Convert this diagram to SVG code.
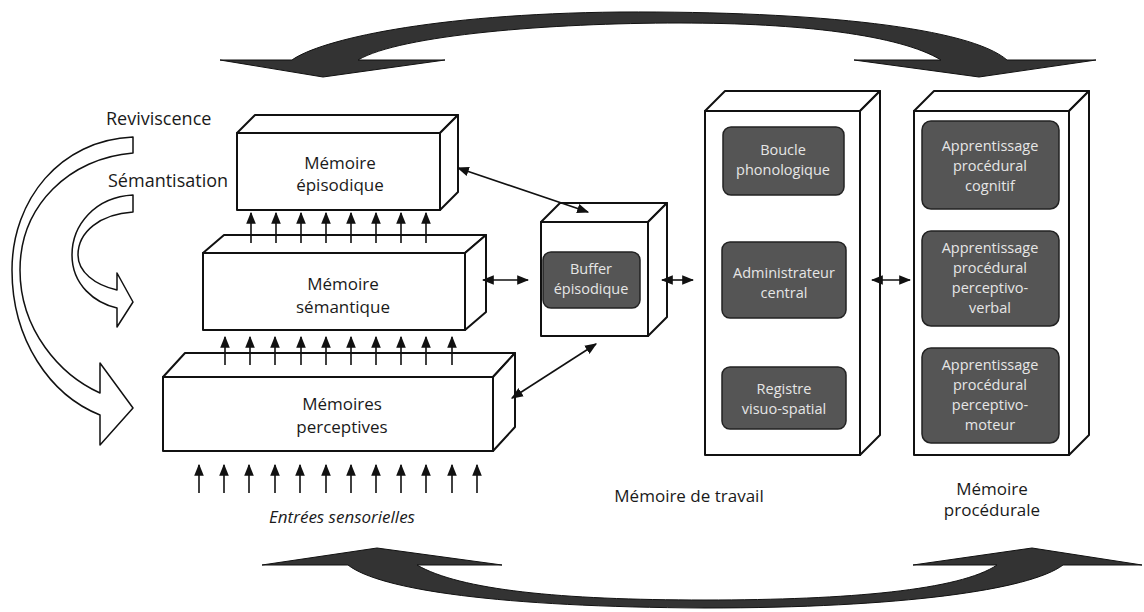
<svg xmlns="http://www.w3.org/2000/svg" width="1144" height="612" viewBox="0 0 1144 612">
<defs>
<style>
text{font-family:"Open Sans","Liberation Sans",sans-serif;fill:#1a1a1a;font-size:17px}
.c{text-anchor:middle}
.box{fill:#fff;stroke:#111;stroke-width:2;stroke-linejoin:round}
.inner{fill:#555;stroke:#222;stroke-width:1.5}
.it{fill:#e6e6e6;font-size:14.5px;text-anchor:middle}
.big{fill:#333;stroke:#111;stroke-width:1}
.hollow{fill:#fff;stroke:#111;stroke-width:1.5;stroke-linejoin:round}
.ar{stroke:#111;stroke-width:1.6;fill:none;marker-end:url(#h)}
.dar{stroke:#111;stroke-width:1.6;fill:none;marker-end:url(#h);marker-start:url(#h)}
</style>
<marker id="h" markerUnits="userSpaceOnUse" markerWidth="12" markerHeight="10" refX="9" refY="4" orient="auto-start-reverse" viewBox="0 0 10 8">
<path d="M0,0 L10,4 L0,8 Z" fill="#111"/>
</marker>
</defs>

<g id="cycle-top">
<path class="big" d="M220,60 L292,60 C320,40 430,14 620,12 C820,11 970,28 1007,60 L1096,60 L979,77 L854,60 L941,60 C900,35 800,23 680,23 C550,23 400,35 358,60 L445,60 L323,77 Z"/>
</g>
<g id="cycle-bottom">
<path class="big" d="M262,565 L348,565 C380,590 500,607 705,608 C900,608 1030,590 1063,565 L1142,565 L1032,548 L913,565 L997,565 C960,590 850,600 705,600 C560,600 460,590 417,565 L502,565 L377,548 Z"/>
</g>

<g id="reviviscence">
<path class="hollow" d="M133,137 C60,140 12,200 12,270 C12,340 50,395 100,415 L100,445 L133,408 L100,363 L100,393 C60,375 20,330 20,270 C20,205 70,158 133,153 Z"/>
<text x="106" y="125" style="font-size:18px">Reviviscence</text>
</g>
<g id="semantisation">
<path class="hollow" d="M133,195 C95,197 72,225 72,255 C72,285 95,303 117,308 L117,327 L133,302 L117,273 L117,290 C95,285 78,272 78,255 C78,232 100,214 133,212 Z"/>
<text x="108" y="187" style="font-size:18px">Sémantisation</text>
</g>

<g id="memoire-episodique">
<path class="box" d="M237,133 L255,115 L458,115 L440,133 Z"/>
<path class="box" d="M440,133 L458,115 L458,192 L440,210 Z"/>
<rect class="box" x="237" y="133" width="203" height="77"/>
<text class="c" x="340" y="169">Mémoire</text>
<text class="c" x="340" y="191">épisodique</text>
</g>

<g id="memoire-semantique">
<path class="box" d="M203,253 L224,235 L486,235 L465,253 Z"/>
<path class="box" d="M465,253 L486,235 L486,312 L465,330 Z"/>
<rect class="box" x="203" y="253" width="262" height="77"/>
<text class="c" x="343" y="290">Mémoire</text>
<text class="c" x="343" y="313">sémantique</text>
</g>

<g id="memoires-perceptives">
<path class="box" d="M163,377 L185,353 L515,353 L493,377 Z"/>
<path class="box" d="M493,377 L515,353 L515,427 L493,451 Z"/>
<rect class="box" x="163" y="377" width="330" height="74"/>
<text class="c" x="342" y="410">Mémoires</text>
<text class="c" x="342" y="433">perceptives</text>
</g>

<g id="entrees">
<text class="c" x="342" y="523" style="font-style:italic">Entrées sensorielles</text>
</g>

<g id="buffer-episodique">
<path class="box" d="M541,222 L560,203 L667,203 L648,222 Z"/>
<path class="box" d="M648,222 L667,203 L667,317 L648,336 Z"/>
<rect class="box" x="541" y="222" width="107" height="114"/>
<rect class="inner" x="543" y="252" width="97" height="56" rx="8"/>
<text class="it" x="591" y="274">Buffer</text>
<text class="it" x="591" y="294">épisodique</text>
</g>

<g id="memoire-de-travail">
<path class="box" d="M705,111 L725,91 L880,91 L860,111 Z"/>
<path class="box" d="M860,111 L880,91 L880,435 L860,455 Z"/>
<rect class="box" x="705" y="111" width="155" height="344"/>
<rect class="inner" x="723" y="127" width="121" height="68" rx="8"/>
<text class="it" x="783" y="155">Boucle</text>
<text class="it" x="783" y="175">phonologique</text>
<rect class="inner" x="722" y="242" width="124" height="76" rx="8"/>
<text class="it" x="784" y="278">Administrateur</text>
<text class="it" x="784" y="298">central</text>
<rect class="inner" x="722" y="367" width="124" height="62" rx="8"/>
<text class="it" x="784" y="394">Registre</text>
<text class="it" x="784" y="414">visuo-spatial</text>
<text class="c" x="689" y="502">Mémoire de travail</text>
</g>

<g id="memoire-procedurale">
<path class="box" d="M914,111 L934,91 L1089,91 L1069,111 Z"/>
<path class="box" d="M1069,111 L1089,91 L1089,435 L1069,455 Z"/>
<rect class="box" x="914" y="111" width="155" height="344"/>
<rect class="inner" x="922" y="121" width="137" height="88" rx="9"/>
<text class="it" x="990" y="151">Apprentissage</text>
<text class="it" x="990" y="171">procédural</text>
<text class="it" x="990" y="191">cognitif</text>
<rect class="inner" x="922" y="231" width="137" height="95" rx="9"/>
<text class="it" x="990" y="253">Apprentissage</text>
<text class="it" x="990" y="273">procédural</text>
<text class="it" x="990" y="293">perceptivo-</text>
<text class="it" x="990" y="313">verbal</text>
<rect class="inner" x="922" y="348" width="137" height="95" rx="9"/>
<text class="it" x="990" y="370">Apprentissage</text>
<text class="it" x="990" y="390">procédural</text>
<text class="it" x="990" y="410">perceptivo-</text>
<text class="it" x="990" y="430">moteur</text>
<text class="c" x="992" y="495">Mémoire</text>
<text class="c" x="992" y="516">procédurale</text>
</g>

<g id="connectors">
<path class="ar" d="M251,243 V213"/>
<path class="ar" d="M276,243 V213"/>
<path class="ar" d="M301,243 V213"/>
<path class="ar" d="M326,243 V213"/>
<path class="ar" d="M351,243 V213"/>
<path class="ar" d="M376,243 V213"/>
<path class="ar" d="M401,243 V213"/>
<path class="ar" d="M426,243 V213"/>
<path class="ar" d="M225,365 V337"/>
<path class="ar" d="M250,365 V337"/>
<path class="ar" d="M275,365 V337"/>
<path class="ar" d="M301,365 V337"/>
<path class="ar" d="M326,365 V337"/>
<path class="ar" d="M351,365 V337"/>
<path class="ar" d="M376,365 V337"/>
<path class="ar" d="M401,365 V337"/>
<path class="ar" d="M426,365 V337"/>
<path class="ar" d="M452,365 V337"/>
<path class="ar" d="M199,493 V465"/>
<path class="ar" d="M224,493 V465"/>
<path class="ar" d="M249,493 V465"/>
<path class="ar" d="M275,493 V465"/>
<path class="ar" d="M300,493 V465"/>
<path class="ar" d="M326,493 V465"/>
<path class="ar" d="M351,493 V465"/>
<path class="ar" d="M376,493 V465"/>
<path class="ar" d="M401,493 V465"/>
<path class="ar" d="M426,493 V465"/>
<path class="ar" d="M452,493 V465"/>
<path class="ar" d="M477,493 V465"/>
<path class="dar" d="M458,168 L588,212"/>
<path class="dar" d="M483,280 L528,280"/>
<path class="dar" d="M512,398 L596,344"/>
<path class="dar" d="M662,280 L693,280"/>
<path class="dar" d="M872,280 L910,280"/>
</g>
</svg>
